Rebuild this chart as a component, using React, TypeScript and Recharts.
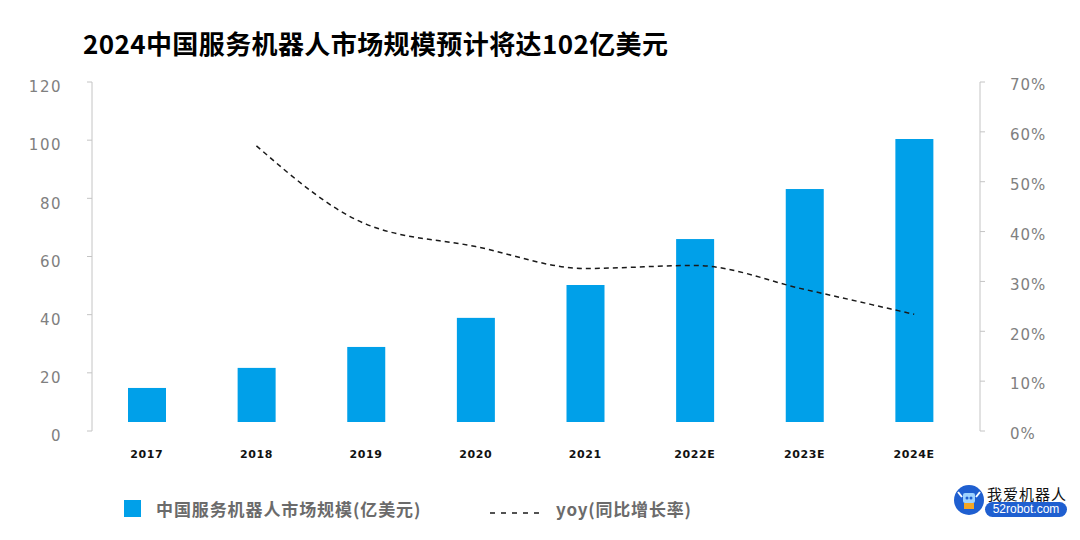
import { Bar, ComposedChart, Line, XAxis, YAxis } from "recharts";

const YEARS = ["2017", "2018", "2019", "2020", "2021", "2022E", "2023E", "2024E"];
const MARKET_SIZE = [14.8, 21.7, 28.9, 38.9, 50.2, 66.0, 83.2, 100.4];
const YOY = [null, 0.572, 0.415, 0.37, 0.326, 0.332, 0.284, 0.234];
const LEFT_TICKS = [0, 20, 40, 60, 80, 100, 120];
const RIGHT_TICKS = [0, 0.1, 0.2, 0.3, 0.4, 0.5, 0.6, 0.7];

const TITLE = "2024中国服务机器人市场规模预计将达102亿美元";
const BAR_NAME = "中国服务机器人市场规模(亿美元)";
const LINE_NAME = "yoy(同比增长率)";

const BAR_COLOR = "#00A0E9";
const AXIS_COLOR = "#c4c4c4";
const TICK_COLOR = "#808080";
const CJK = '"Noto Sans CJK SC", "Noto Sans", sans-serif';
const NUM_FONT = '"DejaVu Sans", sans-serif';

const data = YEARS.map((year, i) => ({ year, size: MARKET_SIZE[i], yoy: YOY[i] }));

// the source bars stop a few px above the zero line
const TrimmedBar = (props: any) => {
  const { x, y, width, height } = props;
  const h = Math.max(0, height - 9);
  return <rect x={x} y={y} width={width} height={h} fill={BAR_COLOR} />;
};

export default function App() {
  return (
    <div
      style={{
        position: "absolute",
        left: 0,
        top: 0,
        width: 1080,
        height: 540,
        background: "#fff",
        overflow: "hidden",
      }}
    >
      <div
        style={{
          position: "absolute",
          left: 83,
          top: 24,
          fontFamily: CJK,
          fontWeight: 700,
          fontSize: 26,
          color: "#000",
          whiteSpace: "nowrap",
          letterSpacing: 0.4,
        }}
      >
        {TITLE}
      </div>

      <div style={{ position: "absolute", left: 0, top: 0 }}>
        <ComposedChart
          width={1080}
          height={540}
          data={data}
          margin={{ top: 82, right: 0, bottom: 79, left: 0 }}
        >
          <XAxis
            dataKey="year"
            axisLine={false}
            tickLine={false}
            tickSize={0}
            tickMargin={19}
            height={30}
            padding={{ left: 0, right: 11 }}
            interval={0}
            tick={{
              fill: "#111",
              fontSize: 11,
              fontWeight: 700,
              fontFamily: NUM_FONT,
              letterSpacing: 0.6,
            }}
          />
          <YAxis
            yAxisId="left"
            orientation="left"
            width={92}
            domain={[0, 120]}
            ticks={LEFT_TICKS}
            stroke={AXIS_COLOR}
            tickSize={5}
            tickMargin={25}
            tick={{
              fill: TICK_COLOR,
              fontSize: 15,
              fontFamily: NUM_FONT,
              letterSpacing: 1.5,
              dy: 5,
            }}
          />
          <YAxis
            yAxisId="right"
            orientation="right"
            width={100}
            domain={[0, 0.7]}
            ticks={RIGHT_TICKS}
            stroke={AXIS_COLOR}
            tickSize={5}
            tickMargin={25}
            tickFormatter={(v: number) => `${Math.round(v * 100)}%`}
            tick={{
              fill: TICK_COLOR,
              fontSize: 15,
              fontFamily: NUM_FONT,
              letterSpacing: 1,
              dy: 3,
            }}
          />
          <Bar
            yAxisId="left"
            dataKey="size"
            barSize={38}
            fill={BAR_COLOR}
            shape={TrimmedBar}
            isAnimationActive={false}
          />
          <Line
            yAxisId="right"
            dataKey="yoy"
            type="monotone"
            stroke="#1a1a1a"
            strokeWidth={1.5}
            strokeDasharray="5 4"
            dot={false}
            activeDot={false}
            connectNulls={false}
            isAnimationActive={false}
          />
        </ComposedChart>
      </div>

      {/* legend */}
      <div
        style={{
          position: "absolute",
          left: 124,
          top: 500,
          width: 17,
          height: 17,
          background: BAR_COLOR,
        }}
      />
      <div
        style={{
          position: "absolute",
          left: 156,
          top: 496,
          fontFamily: CJK,
          fontWeight: 700,
          fontSize: 17,
          color: "#6b6b6b",
          whiteSpace: "nowrap",
          letterSpacing: 0.9,
        }}
      >
        {BAR_NAME}
      </div>
      <svg style={{ position: "absolute", left: 488, top: 510 }} width={56} height={6}>
        <line x1={2} y1={3} x2={54} y2={3} stroke="#1a1a1a" strokeWidth={1.5} strokeDasharray="5 6" />
      </svg>
      <div
        style={{
          position: "absolute",
          left: 556,
          top: 496,
          fontFamily: CJK,
          fontWeight: 700,
          fontSize: 17,
          color: "#6b6b6b",
          whiteSpace: "nowrap",
          letterSpacing: 0.8,
        }}
      >
        {LINE_NAME}
      </div>

      {/* watermark */}
      <svg style={{ position: "absolute", left: 953, top: 484 }} width={32} height={32}>
        <circle cx={16} cy={16} r={15} fill="#1f5fd0" />
        <rect x={10} y={9} width={12} height={10} rx={2} fill="#9fd3ff" />
        <rect x={11} y={19} width={10} height={6} fill="#f5a623" />
        <circle cx={14} cy={14} r={1.5} fill="#1f5fd0" />
        <circle cx={18} cy={14} r={1.5} fill="#1f5fd0" />
        <line x1={5} y1={8} x2={9} y2={13} stroke="#fff" strokeWidth={2} />
        <line x1={27} y1={8} x2={23} y2={13} stroke="#fff" strokeWidth={2} />
      </svg>
      <div
        style={{
          position: "absolute",
          left: 987,
          top: 483,
          fontFamily: CJK,
          fontSize: 15,
          color: "#111",
          whiteSpace: "nowrap",
          letterSpacing: 1,
        }}
      >
        我爱机器人
      </div>
      <div
        style={{
          position: "absolute",
          left: 985,
          top: 502,
          width: 82,
          height: 15,
          borderRadius: 8,
          background: "#1f5fd0",
          color: "#fff",
          fontFamily: '"Liberation Sans", sans-serif',
          fontSize: 12,
          lineHeight: "15px",
          textAlign: "center",
        }}
      >
        52robot.com
      </div>
    </div>
  );
}
